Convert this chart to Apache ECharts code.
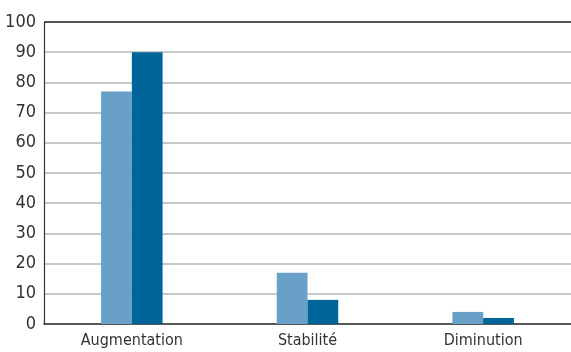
<!DOCTYPE html>
<html>
<head>
<meta charset="utf-8">
<script src="https://cdn.jsdelivr.net/npm/echarts@6/dist/echarts.min.js"></script>
<style>
  html, body { margin: 0; padding: 0; background: #fff; }
  #chart { width: 571px; height: 352px; }
</style>
</head>
<body>
<div id="chart"></div>
<script>
// Category labels along the x axis
const categories = ['Augmentation', 'Stabilité', 'Diminution'];
// Two series of percentages
const seriesA = [77, 17, 4];
const seriesB = [90, 8, 2];
// Y axis range
const yMin = 0, yMax = 100, yStep = 10;

const FONT = '"DejaVu Sans Condensed", "Liberation Sans Narrow", sans-serif';

// light grey gridlines, with a dark frame line at the top value
const gridColors = [];
for (let v = yMin; v <= yMax; v += yStep) gridColors.push(v === yMax ? '#555' : '#c8c8c8');

const chart = echarts.init(document.getElementById('chart'), null, { renderer: 'canvas' });
chart.setOption({
  animation: false,
  grid: { left: 44, right: 0, top: 22, bottom: 28 },
  xAxis: {
    type: 'category',
    data: categories,
    axisLine: { show: true, lineStyle: { color: '#333', width: 1.5 } },
    axisTick: { show: false },
    axisLabel: { color: '#333', fontFamily: FONT, fontSize: 16, margin: 9 }
  },
  yAxis: {
    type: 'value',
    min: yMin, max: yMax, interval: yStep,
    axisLine: { show: true, lineStyle: { color: '#333', width: 1.2 } },
    axisTick: { show: false },
    splitLine: { lineStyle: { color: gridColors, width: 2 } },
    axisLabel: { color: '#333', fontFamily: FONT, fontSize: 18, margin: 8 }
  },
  series: [
    {
      type: 'bar', data: seriesA, barGap: '0%', barCategoryGap: '65%',
      itemStyle: { color: '#68a0c8' }
    },
    {
      type: 'bar', data: seriesB, barGap: '0%', barCategoryGap: '65%',
      itemStyle: { color: '#006699' }
    }
  ]
});
</script>
</body>
</html>
